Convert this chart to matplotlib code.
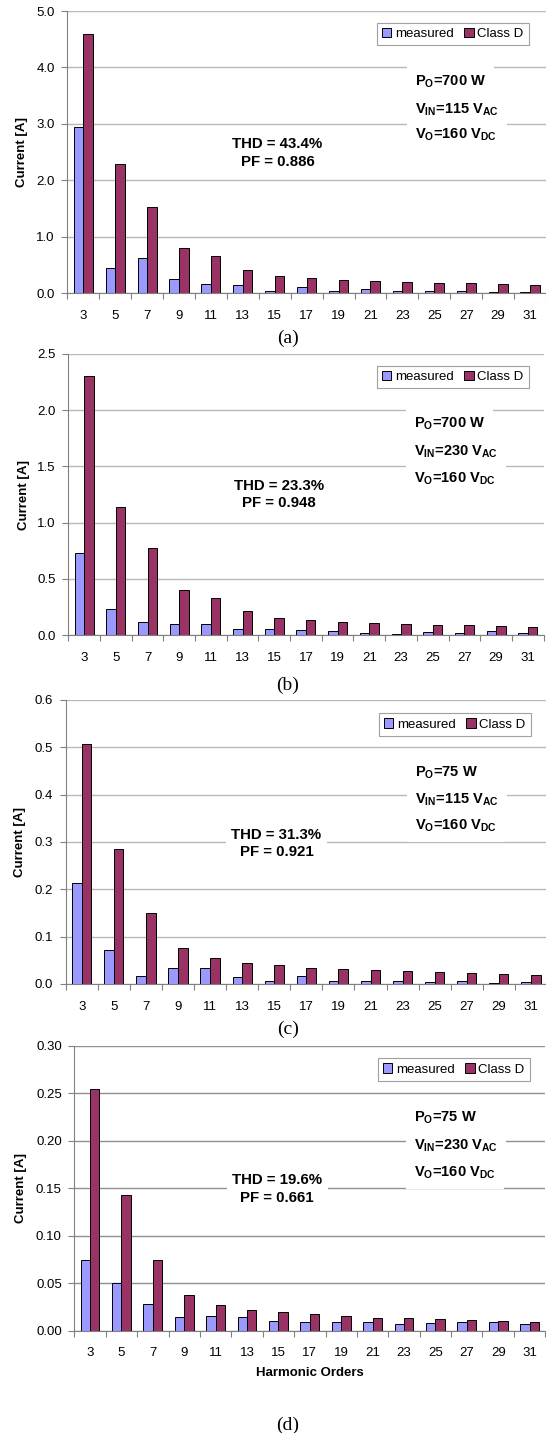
import numpy as np
import matplotlib
matplotlib.use("Agg")
import matplotlib.pyplot as plt
from matplotlib.ticker import FixedLocator, FormatStrFormatter

plt.rcParams['font.family'] = ['Liberation Sans', 'DejaVu Sans']
plt.rcParams['mathtext.fontset'] = 'custom'
plt.rcParams['mathtext.bf'] = 'Liberation Sans:bold'
plt.rcParams['mathtext.rm'] = 'Liberation Sans'

orders = [3, 5, 7, 9, 11, 13, 15, 17, 19, 21, 23, 25, 27, 29, 31]

meas_a = [2.95, 0.45, 0.62, 0.25, 0.16, 0.14, 0.04, 0.11, 0.04, 0.07, 0.04, 0.04, 0.04, 0.02, 0.02]
classd_a = [4.60, 2.29, 1.53, 0.80, 0.66, 0.42, 0.31, 0.265, 0.236, 0.215, 0.20, 0.19, 0.175, 0.16, 0.14]

meas_b = [0.726, 0.232, 0.118, 0.094, 0.094, 0.056, 0.056, 0.047, 0.035, 0.02, 0.009, 0.026, 0.02, 0.035, 0.02]
classd_b = [2.30, 1.14, 0.77, 0.40, 0.33, 0.21, 0.153, 0.132, 0.118, 0.109, 0.10, 0.092, 0.085, 0.078, 0.072]

meas_c = [0.214, 0.072, 0.016, 0.033, 0.033, 0.014, 0.007, 0.016, 0.007, 0.007, 0.007, 0.005, 0.007, 0.002, 0.005]
classd_c = [0.508, 0.286, 0.15, 0.077, 0.054, 0.045, 0.040, 0.0345, 0.032, 0.029, 0.0272, 0.025, 0.023, 0.021, 0.0195]

meas_d = [0.075, 0.0499, 0.0284, 0.0147, 0.0158, 0.0147, 0.0102, 0.0088, 0.0095, 0.0095, 0.0074, 0.0077, 0.0088, 0.0088, 0.0074]
classd_d = [0.255, 0.1426, 0.075, 0.0376, 0.0267, 0.0218, 0.0193, 0.0176, 0.0158, 0.0137, 0.013, 0.0119, 0.0109, 0.0102, 0.0095]

thd_text = ["THD = 43.4%\nPF = 0.886", "THD = 23.3%\nPF = 0.948",
            "THD = 31.3%\nPF = 0.921", "THD = 19.6%\nPF = 0.661"]
power = ["700 W", "700 W", "75 W", "75 W"]
vin = ["115", "230", "115", "230"]
panel_tags = ["(a)", "(b)", "(c)", "(d)"]
ymax = [5.0, 2.5, 0.6, 0.30]
ystep = [1.0, 0.5, 0.1, 0.05]
yfmt = ['%.1f', '%.1f', '%.1f', '%.2f']

W, H = 546, 1433
fig = plt.figure(figsize=(W / 100, H / 100), dpi=100)

# axes boxes in pixels: left, right, top, bottom
boxes = [(67.3, 546, 11, 293.3), (68.3, 543.6, 354, 635),
         (65.7, 547, 700, 984), (74.3, 545.3, 1046, 1330.7)]
legend_pos = [(529, 22.7), (529, 365.7), (531, 713), (530, 1058)]
param_pos = [(414.6, [81.7, 109.3, 135]), (414, [423.3, 451.7, 478.3]),
             (415.3, [772.3, 800, 826]), (414, [1117.3, 1145.7, 1172.3])]
thd_pos = [(277.5, 153), (278.7, 494.7), (276.5, 843.5), (277.3, 1189)]
tag_y = [338, 685, 1029, 1425]
ylab_x = [21.6, 23.7, 20.2, 21]

data = [(meas_a, classd_a), (meas_b, classd_b), (meas_c, classd_c), (meas_d, classd_d)]

def fx(px):
    return px / W

def fy(py):
    return 1 - py / H

x = np.arange(len(orders))
w = 0.3
for i, (meas, cd) in enumerate(data):
    l, r, t, b = boxes[i]
    ax = fig.add_axes([fx(l), fy(b), (r - l) / W, (b - t) / H])
    ax.bar(x - w / 2, meas, w, color='#9999ff', edgecolor='black', linewidth=0.7, label='measured')
    ax.bar(x + w / 2, cd, w, color='#993366', edgecolor='black', linewidth=0.7, label='Class D')
    ax.set_xlim(-0.5, len(orders) - 0.5)
    ax.set_ylim(0, ymax[i])
    ax.set_axisbelow(True)
    ax.yaxis.set_major_locator(FixedLocator(np.arange(0, ymax[i] + 1e-9, ystep[i])))
    ax.yaxis.set_major_formatter(FormatStrFormatter(yfmt[i]))
    gcol = '#b8b8b8' if i < 3 else '#909090'
    ax.grid(axis='y', color=gcol, linewidth=1)
    ax.xaxis.set_major_locator(FixedLocator(np.arange(-0.5, len(orders), 1.0)))
    ax.xaxis.set_minor_locator(FixedLocator(x))
    ax.set_xticklabels([], minor=False)
    ax.set_xticklabels([str(o) for o in orders], minor=True)
    ax.tick_params(axis='x', which='major', length=4, color='#808080')
    ax.tick_params(axis='x', which='minor', length=0, pad=12, labelsize=9.5)
    ax.tick_params(axis='y', length=4, color='#808080', pad=5, labelsize=9.5)
    for s in ['top', 'right']:
        ax.spines[s].set_visible(False)
    for s in ['left', 'bottom']:
        ax.spines[s].set_color('#808080')

    leg = ax.legend(loc='upper right', bbox_to_anchor=(fx(legend_pos[i][0]), fy(legend_pos[i][1])),
                    bbox_transform=fig.transFigure, ncol=2, fontsize=9.5, frameon=True,
                    fancybox=False, edgecolor='#a0a0a0', framealpha=1, borderaxespad=0,
                    handlelength=0.7, handleheight=0.7, handletextpad=0.3,
                    columnspacing=0.8, borderpad=0.4)
    leg.get_frame().set_linewidth(0.8)

    px, pys = param_pos[i]
    lines = ["P$_{\\mathbf{O}}$=" + power[i],
             "V$_{\\mathbf{IN}}$=" + vin[i] + " V$_{\\mathbf{AC}}$",
             "V$_{\\mathbf{O}}$=160 V$_{\\mathbf{DC}}$"]
    for txt, py in zip(lines, pys):
        fig.text(fx(px), fy(py), txt, ha='left', va='center', fontsize=10.5, fontweight='bold',
                 bbox=dict(boxstyle='square,pad=0.55', facecolor='white', edgecolor='none'))

    tx, ty = thd_pos[i]
    fig.text(fx(tx), fy(ty), thd_text[i], ha='center', va='center', fontsize=10.8,
             fontweight='bold', linespacing=1.3,
             bbox=dict(boxstyle='square,pad=0.35', facecolor='white', edgecolor='none'))

    fig.text(fx(ylab_x[i]), fy((t + b) / 2), 'Current [A]', rotation=90, ha='center',
             va='center', fontsize=9.5, fontweight='bold')
    fig.text(fx(288), fy(tag_y[i]), panel_tags[i], ha='center', va='center',
             fontsize=14, family='Liberation Serif')

fig.text(fx(310), fy(1373), 'Harmonic Orders', ha='center', va='center', fontsize=9.5, fontweight='bold')

fig.savefig('out.png', dpi=100)
